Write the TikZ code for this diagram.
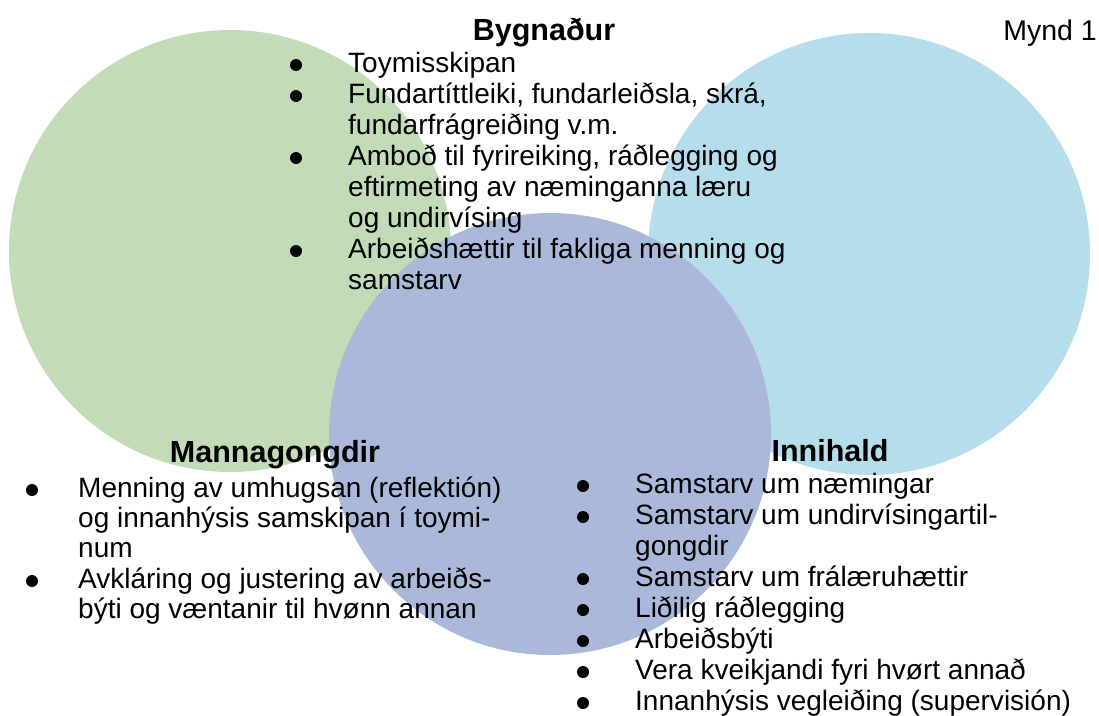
\documentclass[tikz,border=0pt]{standalone}
\usepackage{fontspec}
\setmainfont{Liberation Sans}
\definecolor{cgreen}{HTML}{C2DCB8}
\definecolor{cblue}{HTML}{B5DDEB}
\definecolor{cpurple}{HTML}{AAB9DA}
\begin{document}
\begin{tikzpicture}[x=1pt,y=-1pt,
  txt/.style={anchor=base west, inner sep=0pt, font=\fontsize{28}{31}\selectfont},
  ttl/.style={anchor=base, inner sep=0pt, font=\fontsize{30.5}{31}\selectfont\bfseries},
  bul/.style={circle, fill=black, inner sep=0pt, minimum size=12pt}]
\useasboundingbox (0,0) rectangle (1099,715);
% circles
\fill[cgreen] (230,251) circle[radius=221pt];
\fill[cblue] (869,254) circle[radius=221pt];
\fill[cpurple] (550,434) circle[radius=221pt];
% Mynd 1
\node[anchor=base east, inner sep=0pt, font=\fontsize{28.5}{31}\selectfont] (mynd) at (1097,40) {Mynd 1};
% top block
\node[ttl] (tB) at (544,40) {Bygnaður};
\node[bul] (b1) at (296,65) {};
\node[txt] (t1) at (348,72) {Toymisskipan};
\node[bul] (b2) at (296,96) {};
\node[txt] (t2a) at (348,103) {Fundartíttleiki, fundarleiðsla, skrá,};
\node[txt] (t2b) at (348,134) {fundarfrágreiðing v.m.};
\node[bul] (b3) at (296,158) {};
\node[txt] (t3a) at (348,165) {Amboð til fyrireiking, ráðlegging og};
\node[txt] (t3b) at (348,196) {eftirmeting av næminganna læru};
\node[txt] (t3c) at (348,227) {og undirvísing};
\node[bul] (b4) at (296,251) {};
\node[txt] (t4a) at (348,258) {Arbeiðshættir til fakliga menning og};
\node[txt] (t4b) at (348,289) {samstarv};
% left block
\node[ttl] (tM) at (275,462) {Mannagongdir};
\node[bul] (l1) at (32,490) {};
\node[txt] (m1a) at (78,497) {Menning av umhugsan (reflektión)};
\node[txt] (m1b) at (78,527) {og innanhýsis samskipan í toymi-};
\node[txt] (m1c) at (78,557) {num};
\node[bul] (l2) at (32,581) {};
\node[txt] (m2a) at (78,588) {Avkláring og justering av arbeiðs-};
\node[txt] (m2b) at (78,618) {býti og væntanir til hvønn annan};
% right block
\node[ttl] (tI) at (830,461) {Innihald};
\node[bul] (r1) at (583,486) {};
\node[txt] (i1) at (635,493) {Samstarv um næmingar};
\node[bul] (r2) at (583,517) {};
\node[txt] (i2a) at (635,524) {Samstarv um undirvísingartil-};
\node[txt] (i2b) at (635,555) {gongdir};
\node[bul] (r3) at (583,579) {};
\node[txt] (i3) at (635,586) {Samstarv um frálæruhættir};
\node[bul] (r4) at (583,610) {};
\node[txt] (i4) at (635,617) {Liðilig ráðlegging};
\node[bul] (r5) at (583,641) {};
\node[txt] (i5) at (635,648) {Arbeiðsbýti};
\node[bul] (r6) at (583,672) {};
\node[txt] (i6) at (635,679) {Vera kveikjandi fyri hvørt annað};
\node[bul] (r7) at (583,703) {};
\node[txt] (i7) at (635,710) {Innanhýsis vegleiðing (supervisión)};
\end{tikzpicture}
\end{document}
